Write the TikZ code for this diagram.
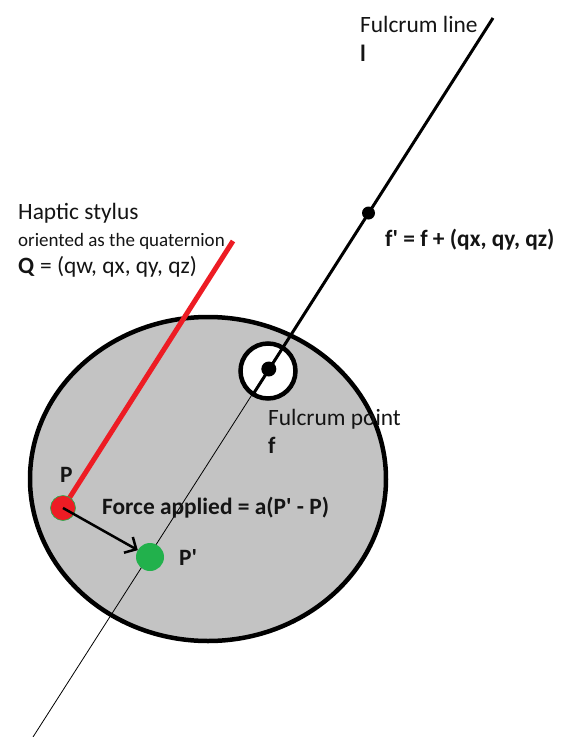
\documentclass[tikz,border=0pt]{standalone}
\usepackage{fontspec}
\setmainfont{Carlito}
\usetikzlibrary{arrows.meta}
\definecolor{ballgray}{RGB}{195,195,195}
\definecolor{pred}{RGB}{237,28,36}
\definecolor{pgreen}{RGB}{34,177,76}
\definecolor{txt}{RGB}{20,20,20}
\newcommand{\sq}{\textquotesingle}
\begin{document}
\begin{tikzpicture}[x=1pt,y=-1pt,
  lbl/.style={anchor=base west,inner sep=0,text=txt,font=\fontsize{23.4}{27}\selectfont},
  lblb/.style={lbl,font=\fontsize{23.4}{27}\selectfont\bfseries},
  lbls/.style={lbl,font=\fontsize{19}{23}\selectfont},
  dot/.style={circle,inner sep=0,outer sep=0,fill=black}]
\useasboundingbox (0,0) rectangle (564,737);
% ball
\path[draw=black,line width=4.5pt,fill=ballgray] (208,479) ellipse [x radius=178pt,y radius=162pt];
% fulcrum ring
\node[circle,draw=black,line width=4.5pt,fill=white,minimum size=55pt,inner sep=0] (ring) at (268,371) {};
% fulcrum line
\coordinate (ltop) at (493,18);
\coordinate (lbot) at (33,737);
\coordinate (lmid) at (252,396);
\draw[line width=0.8pt] (ltop) -- (lbot);
\draw[line width=3pt] (ltop) -- (lmid);
\node[dot,minimum size=15pt] (f) at (268.8,369) {};
\node[dot,minimum size=13pt] (fp) at (368.5,213) {};
% stylus
\coordinate (stop) at (233,241);
\node[circle,inner sep=0,outer sep=0,minimum size=25pt] (P) at (63,508) {};
\draw[pred,line width=5pt] (stop) -- (P.center);
\node[circle,inner sep=0,outer sep=0,minimum size=25pt,fill=pred,draw=pgreen,line width=0.6pt] at (P) {};
\node[circle,inner sep=0,outer sep=0,minimum size=28pt,fill=pgreen] (Pp) at (150,557) {};
\draw[line width=2.5pt,-{Straight Barb[length=9pt,width=18pt]}] (P.center) -- (Pp);
% labels
\node[lbl] (tl1) at (360,32) {Fulcrum line};
\node[lblb] (tl2) at (360,61) {l};
\node[lbl] (hs1) at (18,219) {Haptic stylus};
\node[lbls] (hs2) at (18,246) {oriented as the quaternion};
\node[lbl] (hs3) at (18,273) {\textbf{Q} = (qw, qx, qy, qz)};
\node[lblb] (fpl) at (385,246) {f\sq{} = f + (qx, qy, qz)};
\node[lbl] (fpt) at (268,425) {Fulcrum point};
\node[lblb] (fl) at (268,453) {f};
\node[lblb] (pl) at (60,482) {P};
\node[lblb] (force) at (102,514) {Force applied = a(P\sq{} - P)};
\node[lblb] (ppl) at (179,565) {P\sq};
\end{tikzpicture}
\end{document}
